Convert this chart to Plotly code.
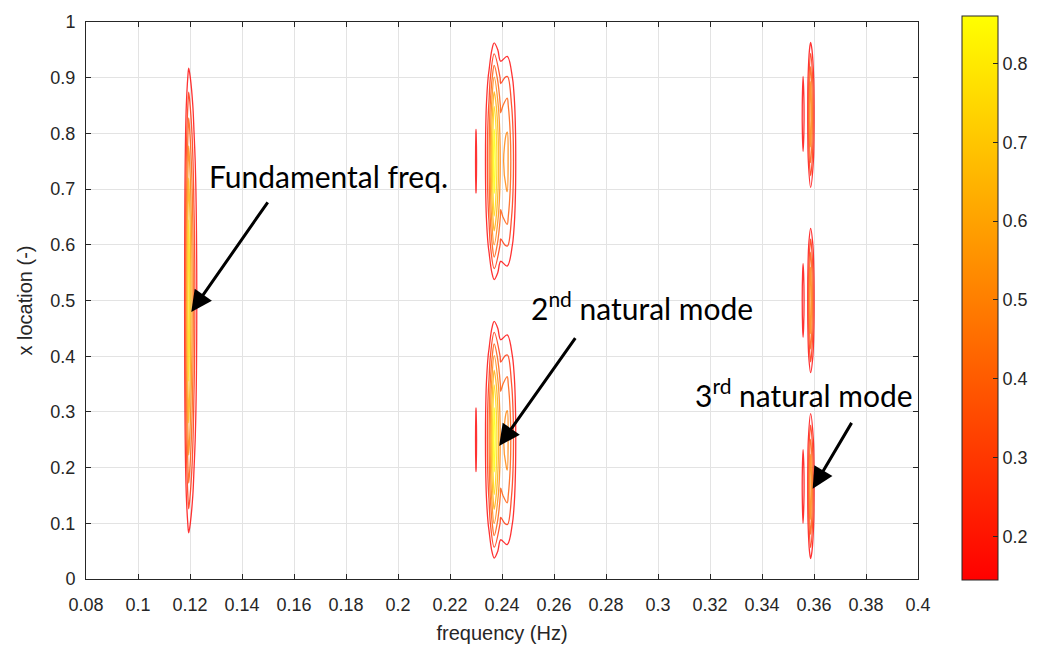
import numpy as np
import plotly.graph_objects as go

# ---- data ----
x_locations = [round(0.05 * i, 2) for i in range(21)]  # sensor positions (-)

mode_numbers = [1, 2, 3]
mode_amplitudes = [0.78, 0.86, 0.60]

freq_bins_1 = [0.1155, 0.1175, 0.1195, 0.1215, 0.1235, 0.1255]
spectrum_1 = [0.0, 0.05, 1.0, 0.45, 0.10, 0.0]

freq_bins_2 = [0.2275, 0.2300, 0.2325, 0.2350, 0.2370, 0.2395, 0.2420, 0.2445, 0.2470]
spectrum_2 = [0.0, 0.25, 0.05, 0.45, 1.0, 0.55, 0.62, 0.34, 0.0]

freq_bins_3 = [0.3530, 0.3544, 0.3558, 0.3572, 0.3587, 0.3601, 0.3615]
spectrum_3 = [0.0, 0.05, 0.42, 0.10, 1.0, 0.30, 0.0]

cbar_min, cbar_max = 0.145, 0.86
cbar_ticks = [0.2, 0.3, 0.4, 0.5, 0.6, 0.7, 0.8]
x_ticks = [0.08, 0.1, 0.12, 0.14, 0.16, 0.18, 0.2, 0.22, 0.24, 0.26, 0.28, 0.3,
           0.32, 0.34, 0.36, 0.38, 0.4]
y_ticks = [0, 0.1, 0.2, 0.3, 0.4, 0.5, 0.6, 0.7, 0.8, 0.9, 1]

# ---- build the spectral magnitude field from modal shapes ----
freqs = []
cols = []
xl = np.array(x_locations)
for n, amp, fb, sp in zip(mode_numbers, mode_amplitudes,
                          [freq_bins_1, freq_bins_2, freq_bins_3],
                          [spectrum_1, spectrum_2, spectrum_3]):
    shape = np.abs(np.sin(n * np.pi * xl))
    for f, s in zip(fb, sp):
        freqs.append(f)
        cols.append(amp * s * shape)
Z = np.array(cols).T  # rows: x location, columns: frequency

autumn = [[0, 'rgb(255,0,0)'], [1, 'rgb(255,255,0)']]
FONT = 'Liberation Sans, Arial, sans-serif'
DARK = '#262626'

fig = go.Figure()
fig.add_trace(go.Contour(
    x=freqs, y=x_locations, z=Z,
    colorscale=autumn, zmin=cbar_min, zmax=cbar_max,
    contours=dict(coloring='lines', start=0.2, end=0.8, size=0.1),
    line=dict(width=1.3),
    showscale=False, hoverinfo='skip', opacity=0.8,
))
# colorbar as a continuous gradient
fig.add_trace(go.Scatter(
    x=[None], y=[None], mode='markers',
    marker=dict(color=[cbar_min], cmin=cbar_min, cmax=cbar_max, colorscale=autumn,
                showscale=True,
                colorbar=dict(
                    x=1.0526, xanchor='left', y=0.5045, yanchor='middle',
                    len=564, lenmode='pixels', thickness=36, thicknessmode='pixels',
                    outlinecolor=DARK, outlinewidth=1,
                    tickvals=cbar_ticks, ticks='inside', ticklen=5,
                    tickcolor=DARK,
                    tickfont=dict(family=FONT, size=18, color=DARK),
                    xpad=0, ypad=0,
                )),
    showlegend=False, hoverinfo='skip',
))

axis_font = dict(family=FONT, size=18, color=DARK)
fig.update_xaxes(
    range=[0.08, 0.4], tickvals=x_ticks, ticks='inside', ticklen=5,
    tickcolor=DARK, showline=True, linecolor=DARK, linewidth=1,
    mirror='ticks', showgrid=True, gridcolor='#e3e3e3', zeroline=False,
    tickfont=axis_font, ticklabelstandoff=9,
    title=dict(text='frequency (Hz)', font=dict(family=FONT, size=20, color=DARK), standoff=12),
)
fig.update_yaxes(
    range=[0, 1], tickvals=y_ticks, ticks='inside', ticklen=5,
    tickcolor=DARK, showline=True, linecolor=DARK, linewidth=1,
    mirror='ticks', showgrid=True, gridcolor='#e3e3e3', zeroline=False,
    tickfont=axis_font, ticklabelstandoff=6,
    title=dict(text='x location (-)', font=dict(family=FONT, size=20, color=DARK), standoff=12),
)

ann_font = dict(family='Lato, Open Sans, sans-serif', size=30, color='black')
texts = [
    ('Fundamental freq.', 0.1266, 0.724),
    ('2<sup>nd</sup> natural mode', 0.2503, 0.490),
    ('3<sup>rd</sup> natural mode', 0.3133, 0.334),
]
for t, fx, fy in texts:
    fig.add_annotation(x=fx, y=fy, xref='x', yref='y', text=t, showarrow=False,
                       xanchor='left', yanchor='middle', font=ann_font)
arrows = [
    (0.1205, 0.4795, 0.1503, 0.679),
    (0.2389, 0.239, 0.2686, 0.435),
    (0.3595, 0.162, 0.3748, 0.283),
]
for hx, hy, tx, ty in arrows:
    fig.add_annotation(x=hx, y=hy, ax=tx, ay=ty, xref='x', yref='y', axref='x', ayref='y',
                       text='', showarrow=True, arrowhead=2, arrowsize=1.4,
                       arrowwidth=3, arrowcolor='black')

fig.update_layout(
    width=1045, height=655,
    margin=dict(l=86, r=122, t=18, b=76),
    paper_bgcolor='white', plot_bgcolor='white',
    showlegend=False,
)

fig.write_html('out.html')
